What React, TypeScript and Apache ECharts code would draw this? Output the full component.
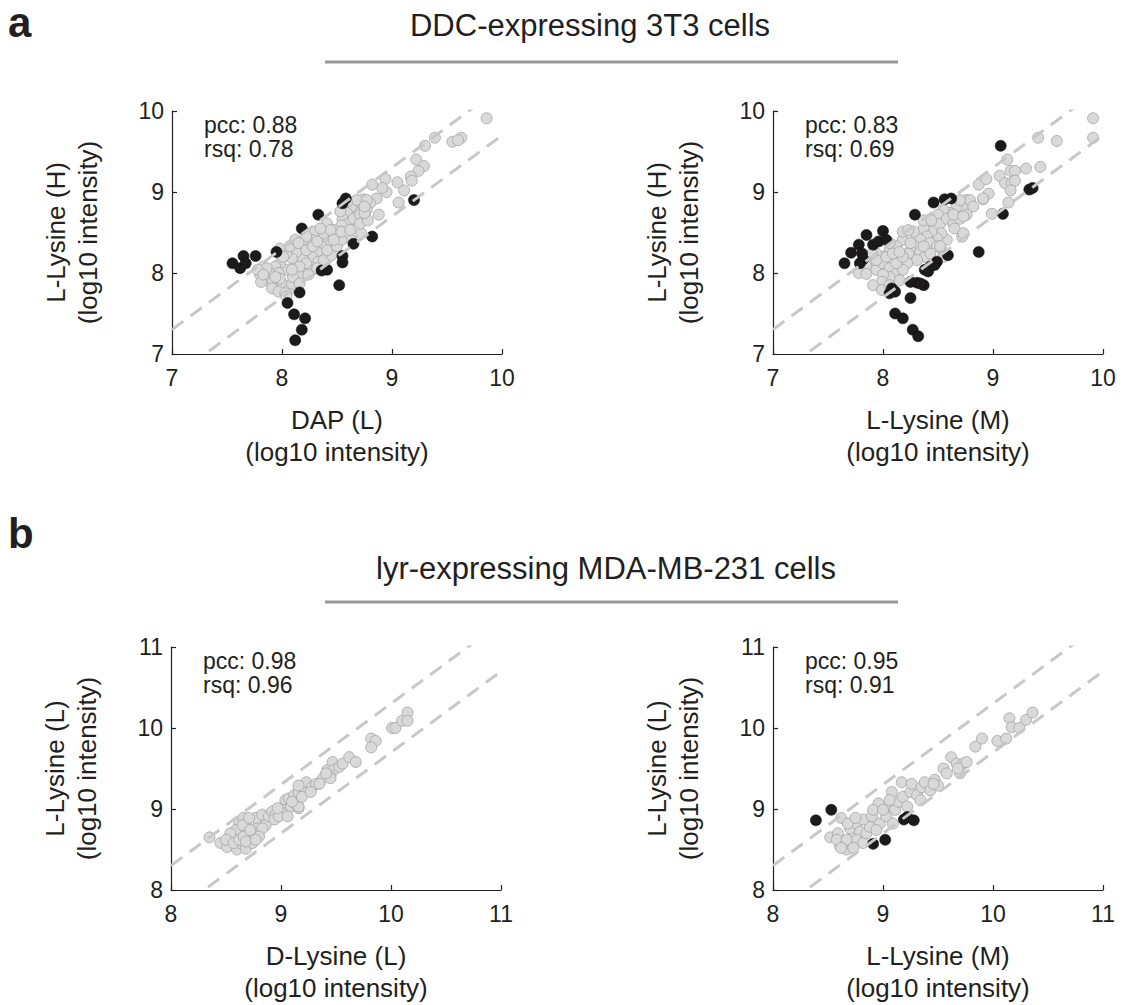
import React, { useEffect, useRef } from "react";
import * as echarts from "echarts";

// ---------- data ----------
const panelTitles = ["DDC-expressing 3T3 cells", "lyr-expressing MDA-MB-231 cells"];
const panelLetters = ["a", "b"];
const xNames = ["DAP (L)", "L-Lysine (M)", "D-Lysine (L)", "L-Lysine (M)"];
const yNames = ["L-Lysine (H)", "L-Lysine (H)", "L-Lysine (L)", "L-Lysine (L)"];
const pccLabels = ["pcc: 0.88", "pcc: 0.83", "pcc: 0.98", "pcc: 0.95"];
const rsqLabels = ["rsq: 0.78", "rsq: 0.69", "rsq: 0.96", "rsq: 0.91"];
const axisRangesA = [7, 10];
const axisRangesB = [8, 11];
const foldOffset = 0.301; // log10(2) guide lines

const a1Black: number[][] = [
  [7.55, 8.12], [7.62, 8.06], [7.65, 8.21], [7.67, 8.12], [7.76, 8.21], [7.95, 8.26],
  [8.18, 8.55], [8.33, 8.72], [8.55, 8.86], [8.58, 8.92], [9.2, 8.9], [8.82, 8.45],
  [8.65, 8.36], [8.55, 8.21], [8.55, 8.13], [8.36, 8.03], [8.41, 8.04], [8.52, 7.85],
  [8.16, 7.76], [8.05, 7.63], [8.11, 7.49], [8.21, 7.44], [8.18, 7.3], [8.12, 7.17],
];
const a1Gray: number[][] = [
  [9.86, 9.91], [9.63, 9.67], [9.55, 9.62], [9.6, 9.64], [9.39, 9.67], [9.3, 9.57],
  [9.22, 9.4], [9.29, 9.32], [9.24, 9.26], [9.17, 9.19], [9.18, 9.14], [9.11, 9.02],
  [9.05, 9.12], [9.06, 8.87], [8.94, 9.16], [8.95, 9.0], [8.91, 9.05], [8.82, 9.09],
  [8.86, 8.92], [8.88, 8.72], [8.8, 8.86], [8.74, 8.91], [8.71, 8.82], [8.68, 8.74],
  [8.63, 8.82], [8.59, 8.74], [8.55, 8.67], [8.6, 8.61], [8.65, 8.67], [8.71, 8.72],
  [8.77, 8.78], [8.53, 8.76], [8.54, 8.59], [8.72, 8.49], [8.63, 8.41], [8.47, 8.53],
  [8.41, 8.61], [8.42, 8.49], [8.39, 8.43], [8.5, 8.45], [8.44, 8.35], [8.36, 8.33],
  [8.3, 8.51], [8.27, 8.41], [8.22, 8.45], [8.19, 8.33], [8.32, 8.26], [8.27, 8.2],
  [8.19, 8.18], [8.13, 8.26], [8.09, 8.18], [8.04, 8.24], [8.07, 8.33], [8.12, 8.06],
  [8.22, 8.08], [8.33, 8.14], [8.28, 8.04], [8.16, 7.98], [8.04, 8.04], [7.98, 8.12],
  [7.94, 8.08], [7.89, 8.0], [7.83, 8.08], [7.8, 7.98], [7.86, 7.91], [7.81, 7.89],
  [7.92, 7.89], [7.97, 8.0], [8.0, 7.87], [7.91, 7.81], [7.97, 7.77], [8.06, 7.79],
  [8.03, 7.75], [8.09, 7.87], [7.98, 7.93], [8.1, 7.95], [8.16, 7.87], [8.24, 7.98],
  [8.32, 8.06], [8.38, 8.16], [8.45, 8.22], [8.41, 8.28], [8.5, 8.33], [8.54, 8.41],
  [8.54, 8.51], [8.62, 8.53], [8.71, 8.61], [8.78, 8.65], [8.75, 8.74], [8.68, 8.9],
  [8.59, 8.88], [8.77, 8.9], [8.75, 8.82], [8.12, 8.41], [8.15, 8.37], [7.98, 8.3],
  [8.01, 8.2], [8.22, 8.28], [8.28, 8.33], [8.32, 8.39], [8.38, 8.49], [8.44, 8.53],
  [8.35, 8.55], [8.47, 8.41], [8.22, 8.12], [8.16, 8.08], [8.09, 8.04], [7.86, 8.06],
  [7.78, 8.04], [7.83, 7.98], [7.94, 7.95], [8.04, 7.71],
];

const a2Black: number[][] = [
  [9.07, 9.57], [9.33, 9.03], [9.36, 9.05], [9.09, 8.73], [8.87, 8.26],
  [8.46, 8.87], [8.56, 8.91], [8.62, 8.92], [8.29, 8.72], [8.0, 8.52], [7.85, 8.47],
  [7.78, 8.35], [7.71, 8.25], [7.65, 8.12], [7.81, 8.24], [7.82, 8.17], [7.79, 8.12],
  [7.91, 8.35], [7.96, 8.39], [8.03, 8.41], [8.59, 8.22], [8.49, 8.14], [8.43, 8.08],
  [8.38, 8.04], [8.41, 8.02], [8.47, 8.1], [8.25, 7.89], [8.31, 7.88], [8.37, 7.85],
  [8.34, 7.87], [8.08, 7.81], [8.11, 7.77], [8.06, 7.75], [8.25, 7.69], [8.11, 7.5],
  [8.18, 7.44], [8.27, 7.3], [8.32, 7.22],
];
const a2Gray: number[][] = [
  [9.91, 9.91], [9.91, 9.67], [9.41, 9.67], [9.58, 9.63], [9.13, 9.4], [9.16, 9.26],
  [9.2, 9.26], [9.3, 9.29], [9.43, 9.31], [9.06, 9.2], [9.11, 9.11], [9.17, 9.11],
  [9.2, 9.14], [9.16, 9.02], [9.14, 8.87], [8.96, 8.98], [8.91, 8.91], [8.87, 9.09],
  [8.94, 9.16], [8.99, 8.73], [8.76, 8.9], [8.79, 8.82], [8.73, 8.74], [8.72, 8.45],
  [8.91, 8.92], [8.79, 8.9], [8.73, 8.8], [8.82, 8.82], [8.67, 8.82], [8.61, 8.74],
  [8.55, 8.78], [8.5, 8.72], [8.52, 8.61], [8.58, 8.67], [8.64, 8.61], [8.7, 8.67],
  [8.76, 8.72], [8.65, 8.55], [8.73, 8.49], [8.58, 8.41], [8.53, 8.49], [8.49, 8.43],
  [8.44, 8.51], [8.37, 8.55], [8.4, 8.45], [8.34, 8.41], [8.43, 8.37], [8.49, 8.33],
  [8.55, 8.26], [8.29, 8.33], [8.25, 8.28], [8.18, 8.41], [8.18, 8.51], [8.23, 8.24],
  [8.34, 8.26], [8.38, 8.2], [8.31, 8.16], [8.22, 8.12], [8.12, 8.2], [8.06, 8.28],
  [8.0, 8.2], [7.94, 8.24], [7.9, 8.16], [7.85, 8.08], [7.78, 8.0], [7.85, 7.99],
  [7.94, 8.04], [8.0, 8.12], [8.06, 8.06], [8.12, 7.99], [8.18, 8.04], [8.15, 7.91],
  [8.06, 7.95], [8.0, 7.98], [7.99, 7.89], [7.91, 7.85], [7.99, 7.79], [8.06, 7.85],
  [8.12, 8.12], [8.18, 8.2], [8.25, 8.37], [8.12, 8.33], [8.06, 8.37], [8.28, 8.51],
  [8.37, 8.33], [8.43, 8.24], [8.52, 8.33], [8.55, 8.2], [7.94, 8.16], [8.03, 8.2],
  [8.09, 8.24], [8.15, 8.26], [7.9, 8.24], [8.23, 8.53], [8.37, 8.65], [8.44, 8.65],
  [8.7, 8.9], [8.64, 8.72], [8.73, 8.7],
];

const b1Gray: number[][] = [
  [8.35, 8.65], [8.45, 8.58], [8.53, 8.62], [8.51, 8.53], [8.57, 8.66], [8.6, 8.5],
  [8.63, 8.58], [8.68, 8.51], [8.63, 8.72], [8.62, 8.82], [8.66, 8.89], [8.69, 8.78],
  [8.71, 8.66], [8.75, 8.7], [8.74, 8.58], [8.78, 8.74], [8.8, 8.82], [8.77, 8.89],
  [8.83, 8.93], [8.86, 8.8], [8.89, 8.91], [8.83, 8.76], [8.92, 8.97], [8.95, 8.93],
  [9.0, 9.01], [9.04, 9.11], [9.04, 8.99], [9.01, 8.95], [9.09, 9.03], [9.07, 9.13],
  [9.13, 9.07], [9.16, 9.01], [9.12, 9.17], [9.16, 9.21], [9.22, 9.23], [9.23, 9.33],
  [9.28, 9.27], [9.32, 9.31], [9.38, 9.38], [9.42, 9.48], [9.47, 9.58], [9.48, 9.48],
  [9.44, 9.42], [9.53, 9.52], [9.56, 9.56], [9.62, 9.64], [9.68, 9.58], [9.45, 9.38],
  [9.82, 9.87], [9.86, 9.84], [9.82, 9.76], [10.01, 10.0], [10.04, 10.0], [10.1, 10.09],
  [10.15, 10.19], [10.15, 10.09], [8.59, 8.74], [8.54, 8.7], [8.5, 8.62], [8.57, 8.58],
  [8.62, 8.62], [8.66, 8.66], [8.65, 8.8], [8.71, 8.89], [8.72, 8.74], [8.68, 8.6],
  [8.8, 8.66], [8.77, 8.62], [8.94, 8.87], [8.98, 8.91], [9.06, 8.91], [8.97, 9.01],
  [9.16, 9.03], [9.1, 9.09], [9.19, 9.15], [9.27, 9.21], [9.35, 9.31], [9.41, 9.44],
  [9.16, 9.29],
];

const b2Black: number[][] = [
  [8.39, 8.86], [8.53, 8.99], [8.91, 8.57], [9.02, 8.62], [9.19, 8.87], [9.22, 8.9],
  [9.28, 8.86],
];
const b2Gray: number[][] = [
  [8.62, 8.89], [8.52, 8.65], [8.59, 8.7], [8.64, 8.58], [8.61, 8.54], [8.67, 8.5],
  [8.72, 8.58], [8.73, 8.66], [8.7, 8.76], [8.76, 8.82], [8.79, 8.72], [8.76, 8.62],
  [8.82, 8.58], [8.85, 8.7], [8.88, 8.78], [8.82, 8.87], [8.9, 8.91], [8.96, 9.07],
  [8.97, 8.82], [8.94, 8.74], [9.03, 8.91], [9.06, 9.03], [9.08, 9.21], [9.11, 8.99],
  [9.14, 9.09], [9.17, 9.33], [9.18, 9.15], [9.25, 9.21], [9.26, 9.31], [9.31, 9.17],
  [9.35, 9.27], [9.38, 9.33], [9.43, 9.23], [9.47, 9.36], [9.5, 9.29], [9.55, 9.5],
  [9.58, 9.44], [9.62, 9.64], [9.67, 9.56], [9.7, 9.44], [9.73, 9.56], [9.76, 9.58],
  [9.68, 9.5], [9.84, 9.77], [9.9, 9.87], [10.04, 9.84], [10.12, 9.87], [10.15, 10.12],
  [10.17, 10.01], [10.24, 10.0], [10.3, 10.1], [10.36, 10.19], [8.58, 8.62],
  [8.68, 8.82], [8.75, 8.89], [8.91, 8.99], [9.0, 8.99], [9.09, 8.82], [9.06, 9.11],
  [9.22, 9.03], [9.34, 9.11], [9.46, 9.31], [8.67, 8.62], [8.73, 8.52], [8.62, 8.52],
];

// ---------- styling ----------
const FONT = "'Liberation Sans', Arial, Helvetica, sans-serif";
const INK = "#231f20";
const GRID_W = 330;
const GRID_H = 243;
const grids = [
  { left: 172, top: 111 },
  { left: 773, top: 111 },
  { left: 171, top: 647 },
  { left: 773, top: 647 },
];

const panels = [
  { range: axisRangesA, gray: a1Gray, black: a1Black },
  { range: axisRangesA, gray: a2Gray, black: a2Black },
  { range: axisRangesB, gray: b1Gray, black: [] as number[][] },
  { range: axisRangesB, gray: b2Gray, black: b2Black },
];

function axisCommon(min: number, max: number, margin: number) {
  return {
    type: "value" as const,
    min,
    max,
    interval: 1,
    axisLine: { show: true, onZero: false, lineStyle: { color: INK, width: 1.2 } },
    axisTick: { show: true, inside: true, length: 5, lineStyle: { color: INK, width: 1.2 } },
    splitLine: { show: false },
    axisLabel: { fontSize: 23, color: INK, fontFamily: FONT, margin },
    nameLocation: "middle" as const,
    nameTextStyle: { fontSize: 26, color: INK, fontFamily: FONT, lineHeight: 32 },
  };
}

export default function App() {
  const ref = useRef<HTMLDivElement>(null);

  useEffect(() => {
    if (!ref.current) return;
    const chart = echarts.init(ref.current, undefined, { renderer: "svg" });

    const xAxis: any[] = [];
    const yAxis: any[] = [];
    const series: any[] = [];
    const graphic: any[] = [];

    panels.forEach((p, i) => {
      const [lo, hi] = p.range;
      xAxis.push({
        ...axisCommon(lo, hi, 12),
        gridIndex: i,
        name: xNames[i] + "\n(log10 intensity)",
        nameGap: 50,
      });
      yAxis.push({
        ...axisCommon(lo, hi, 8),
        gridIndex: i,
        name: yNames[i] + "\n(log10 intensity)",
        nameGap: 68,
        nameRotate: 90,
      });
      const lineStyle = { color: "#c8c8c8", width: 3, type: [14, 9] };
      series.push({
        type: "line",
        xAxisIndex: i,
        yAxisIndex: i,
        data: [[lo, lo + foldOffset], [hi, hi + foldOffset]],
        symbol: "none",
        lineStyle,
        clip: true,
        z: 4,
        silent: true,
      });
      series.push({
        type: "line",
        xAxisIndex: i,
        yAxisIndex: i,
        data: [[lo, lo - foldOffset], [hi, hi - foldOffset]],
        symbol: "none",
        lineStyle,
        clip: true,
        z: 4,
        silent: true,
      });
      series.push({
        type: "scatter",
        xAxisIndex: i,
        yAxisIndex: i,
        data: p.gray,
        symbolSize: 11,
        itemStyle: { color: "#d9d9d9", borderColor: "#a3a3a3", borderWidth: 0.8, opacity: 1 },
        z: 2,
      });
      if (p.black.length) {
        series.push({
          type: "scatter",
          xAxisIndex: i,
          yAxisIndex: i,
          data: p.black,
          symbolSize: 11,
          itemStyle: { color: "#1c1a1b", borderColor: "#111", borderWidth: 0.6, opacity: 1 },
          z: 3,
        });
      }
      const g = grids[i];
      [pccLabels[i], rsqLabels[i]].forEach((t, k) => {
        graphic.push({
          type: "text",
          x: g.left + 32,
          y: g.top + 14 + k * 23.5,
          style: {
            text: t,
            fill: INK,
            fontSize: 23,
            fontFamily: FONT,
            align: "left",
            verticalAlign: "middle",
          },
        });
      });
    });

    // panel letters, titles, divider lines
    const titleX = [590, 606];
    const titleY = [25, 568];
    const lineY = [62, 602];
    const letterY = [22, 533];
    [0, 1].forEach((k) => {
      graphic.push({
        type: "text",
        x: 8,
        y: letterY[k],
        style: {
          text: panelLetters[k],
          fill: INK,
          fontSize: 42,
          fontWeight: "bold",
          fontFamily: FONT,
          align: "left",
          verticalAlign: "middle",
        },
      });
      graphic.push({
        type: "text",
        x: titleX[k],
        y: titleY[k],
        style: {
          text: panelTitles[k],
          fill: INK,
          fontSize: 31,
          fontFamily: FONT,
          align: "center",
          verticalAlign: "middle",
        },
      });
      graphic.push({
        type: "line",
        shape: { x1: 325, y1: lineY[k], x2: 898, y2: lineY[k] },
        style: { stroke: "#999999", lineWidth: 3 },
      });
    });

    chart.setOption({
      animation: false,
      backgroundColor: "#ffffff",
      grid: grids.map((g) => ({ left: g.left, top: g.top, width: GRID_W, height: GRID_H })),
      xAxis,
      yAxis,
      series,
      graphic,
    });

    return () => chart.dispose();
  }, []);

  return (
    <div
      ref={ref}
      style={{ position: "absolute", left: 0, top: 0, width: 1125, height: 1005 }}
    />
  );
}
